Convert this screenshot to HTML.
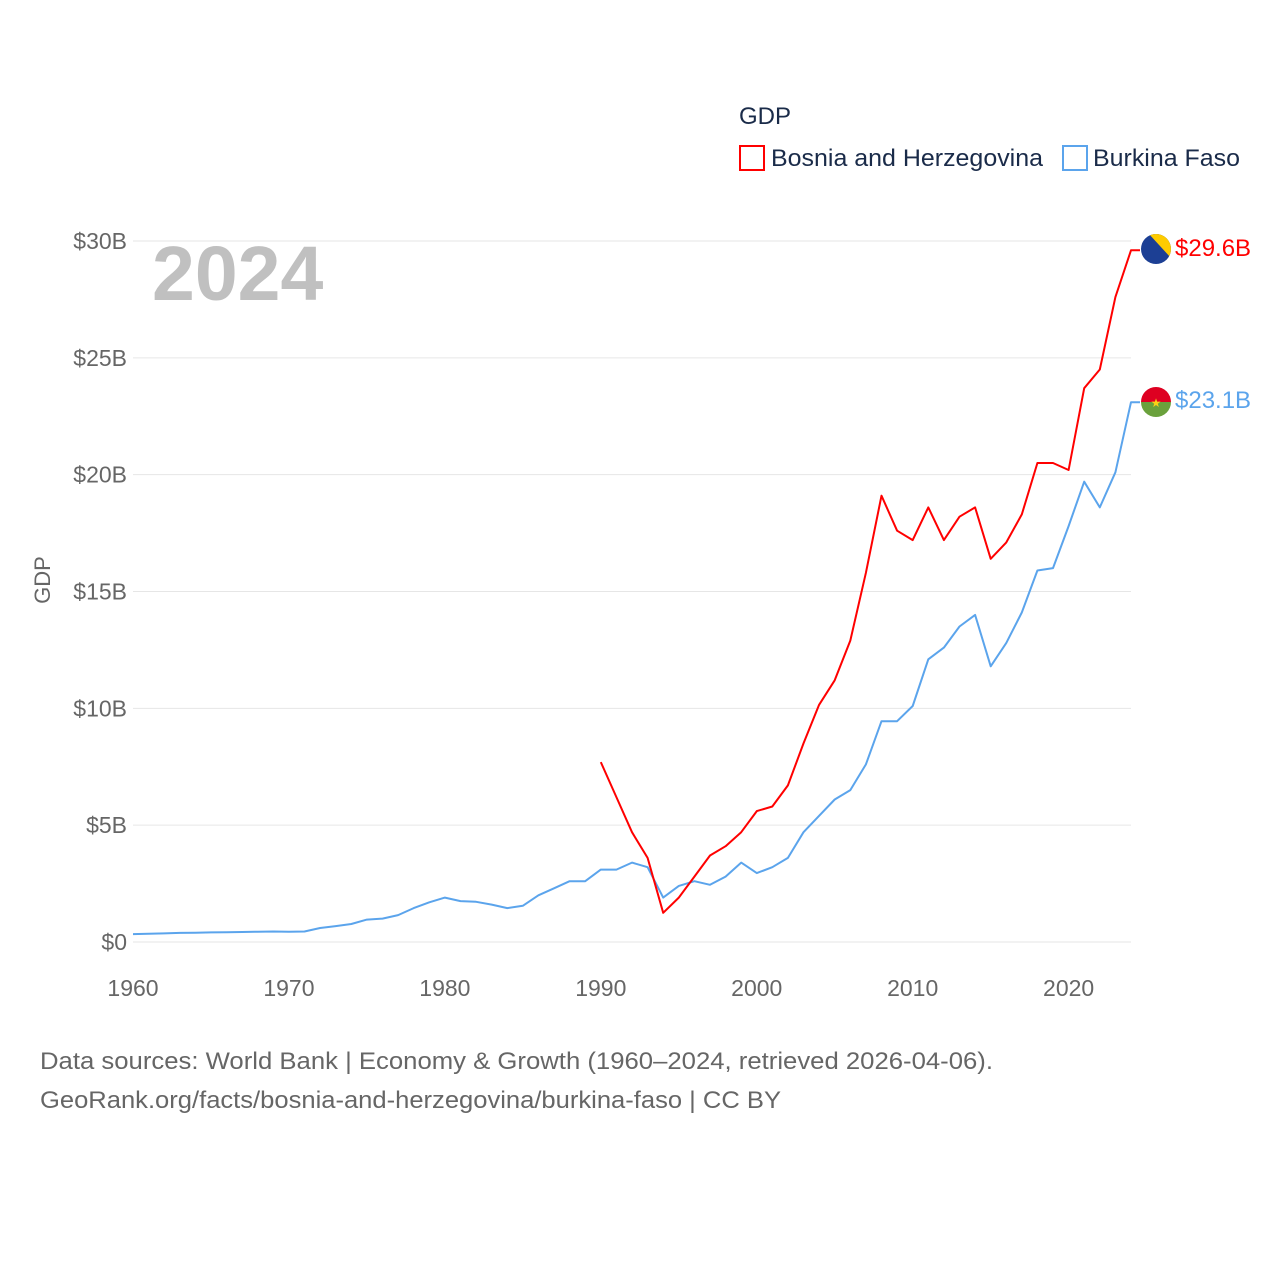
<!DOCTYPE html>
<html><head><meta charset="utf-8"><style>
body{margin:0;background:#fff;font-family:"Liberation Sans",sans-serif}
svg text{font-family:"Liberation Sans",sans-serif}
</style></head><body>
<svg id="chart" width="1280" height="1280" viewBox="0 0 1280 1280">
<text x="739" y="124" font-size="24" fill="#1a2b49">GDP</text>
<g>
<rect x="740" y="146" width="24" height="24" fill="none" stroke="#ff0000" stroke-width="2"/>
<text x="771" y="166" font-size="24" fill="#1a2b49" textLength="272" lengthAdjust="spacingAndGlyphs">Bosnia and Herzegovina</text></g>
<g>
<rect x="1063" y="146" width="24" height="24" fill="none" stroke="#5ba4ec" stroke-width="2"/>
<text x="1093" y="166" font-size="24" fill="#1a2b49" textLength="147" lengthAdjust="spacingAndGlyphs">Burkina Faso</text></g>
<text x="152" y="300" font-size="77" font-weight="bold" fill="#c0c0c0">2024</text>
<text transform="translate(50,580) rotate(-90)" text-anchor="middle" font-size="22" fill="#666">GDP</text>
<g id="grid"></g><g id="xt"></g><g id="lines"></g>
<g>
<clipPath id="c1"><circle cx="1156" cy="249" r="15"/></clipPath>
<g clip-path="url(#c1)"><rect x="1141" y="234" width="30" height="30" fill="#1c3f94"/><polygon points="1149,234 1171,234 1171,258" fill="#fecb00"/></g></g>
<g>
<clipPath id="c2"><circle cx="1156" cy="402" r="15"/></clipPath>
<g clip-path="url(#c2)"><rect x="1141" y="387" width="30" height="15" fill="#de0021"/><rect x="1141" y="402" width="30" height="15" fill="#6aa13c"/></g>
<text x="1156" y="407" font-size="12" text-anchor="middle" fill="#fcd116">★</text></g>
<text x="1175" y="256" font-size="24" fill="#ff0000">$29.6B</text>
<text x="1175" y="408" font-size="24" fill="#5ba4ec">$23.1B</text>
<text x="40" y="1069" font-size="24" fill="#666" textLength="953" lengthAdjust="spacingAndGlyphs">Data sources: World Bank | Economy &amp; Growth (1960–2024, retrieved 2026-04-06).</text>
<text x="40" y="1108" font-size="24" fill="#666" textLength="741" lengthAdjust="spacingAndGlyphs">GeoRank.org/facts/bosnia-and-herzegovina/burkina-faso | CC BY</text>
</svg>
<script>
const yTicks=[0,5,10,15,20,25,30];
const yTickLabels=["$0","$5B","$10B","$15B","$20B","$25B","$30B"];
const xTicks=[1960,1970,1980,1990,2000,2010,2020];
const bfStart=1960;
const burkina=[0.34,0.35,0.37,0.39,0.40,0.41,0.42,0.43,0.44,0.45,0.44,0.45,0.6,0.68,0.77,0.96,1.0,1.15,1.45,1.7,1.9,1.75,1.72,1.6,1.45,1.55,2.0,2.3,2.6,2.6,3.1,3.1,3.4,3.2,1.9,2.4,2.6,2.45,2.8,3.4,2.95,3.2,3.6,4.7,5.4,6.1,6.5,7.6,9.45,9.45,10.1,12.1,12.6,13.5,14.0,11.8,12.8,14.1,15.9,16.0,17.8,19.7,18.6,20.1,23.1];
const bhStart=1990;
const bosnia=[7.7,6.2,4.7,3.6,1.25,1.9,2.8,3.7,4.1,4.7,5.6,5.8,6.7,8.5,10.15,11.2,12.9,15.8,19.1,17.6,17.2,18.6,17.2,18.2,18.6,16.4,17.1,18.3,20.5,20.5,20.2,23.7,24.5,27.6,29.6];
const NS='http://www.w3.org/2000/svg';
const X=yr=>133+(yr-1960)*(1131-133)/64;
const Y=v=>942-v*(942-241)/30;
function mk(t,a,p){const e=document.createElementNS(NS,t);for(const k in a)e.setAttribute(k,a[k]);p.appendChild(e);return e;}
const grid=document.getElementById('grid');
yTicks.forEach((v,i)=>{
const l=mk('line',{x1:133,x2:1131,y1:Y(v),y2:Y(v),stroke:'#e6e6e6','stroke-width':1},grid);


const t=mk('text',{x:127,y:Y(v)+8,'text-anchor':'end','font-size':23,fill:'#666'},grid);t.textContent=yTickLabels[i];


});
const xt=document.getElementById('xt');
xTicks.forEach(yr=>{const t=mk('text',{x:X(yr),y:996,'text-anchor':'middle','font-size':23,fill:'#666'},xt);t.textContent=yr;

});
const lines=document.getElementById('lines');
function path(arr,start,col,name){let d=arr.map((v,i)=>(i?'L':'M')+X(start+i).toFixed(1)+','+Y(v).toFixed(1)).join('');
d+='H'+(X(start+arr.length-1)+9).toFixed(1);
const p=mk('path',{d:d,fill:'none',stroke:col,'stroke-width':2,'stroke-linejoin':'round'},lines);

}
path(burkina,bfStart,'#5ba4ec','burkina-line');
path(bosnia,bhStart,'#ff0000','bosnia-line');
</script>
</body></html>
